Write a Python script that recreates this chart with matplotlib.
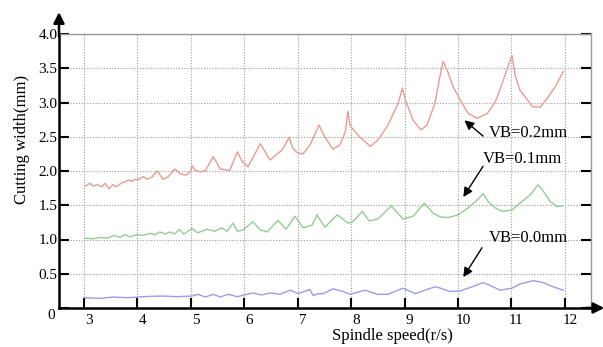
import matplotlib
matplotlib.use("Agg")
import matplotlib.pyplot as plt
import matplotlib.transforms as mtransforms

plt.rcParams['font.family'] = ['Liberation Serif', 'DejaVu Serif']

# ---- data ----
x_red = [3.02, 3.11, 3.17, 3.24, 3.34, 3.39, 3.47, 3.54, 3.61, 3.71, 3.77, 3.83, 3.90, 3.96,
         4.01, 4.11, 4.18, 4.27, 4.37, 4.48, 4.57, 4.70, 4.80, 4.91, 4.99, 5.02, 5.08, 5.17,
         5.27, 5.42, 5.55, 5.73, 5.87, 5.96, 6.07, 6.30, 6.48, 6.71, 6.84, 6.91, 7.01, 7.10,
         7.23, 7.40, 7.51, 7.66, 7.79, 7.89, 7.94, 7.98, 8.17, 8.36, 8.51, 8.69, 8.88, 8.96,
         9.01, 9.16, 9.31, 9.42, 9.57, 9.65, 9.72, 9.80, 9.91, 10.04, 10.19, 10.36, 10.55,
         10.70, 10.85, 10.98, 11.01, 11.07, 11.16, 11.30, 11.39, 11.54, 11.67, 11.82, 11.97]
y_red = [1.78, 1.82, 1.78, 1.80, 1.77, 1.82, 1.74, 1.80, 1.77, 1.83, 1.84, 1.87, 1.85, 1.88,
         1.87, 1.92, 1.88, 1.91, 2.00, 1.88, 1.91, 2.03, 1.96, 1.94, 1.99, 2.08, 2.01, 1.99,
         2.00, 2.21, 2.03, 2.01, 2.28, 2.14, 2.06, 2.40, 2.16, 2.31, 2.49, 2.33, 2.26, 2.25,
         2.38, 2.67, 2.49, 2.32, 2.38, 2.57, 2.87, 2.66, 2.49, 2.36, 2.46, 2.67, 2.99, 3.21,
         3.05, 2.74, 2.60, 2.67, 2.99, 3.33, 3.60, 3.47, 3.23, 3.04, 2.84, 2.77, 2.84,
         3.01, 3.33, 3.62, 3.69, 3.40, 3.18, 3.04, 2.94, 2.93, 3.06, 3.23, 3.45]

x_green = [3.02, 3.17, 3.30, 3.43, 3.58, 3.67, 3.77, 3.86, 3.99, 4.11, 4.24, 4.33, 4.42, 4.52,
           4.61, 4.70, 4.78, 4.87, 5.02, 5.12, 5.17, 5.30, 5.45, 5.58, 5.68, 5.79, 5.87, 5.98,
           6.16, 6.30, 6.43, 6.63, 6.78, 6.95, 7.10, 7.27, 7.36, 7.51, 7.74, 7.94, 8.02, 8.21,
           8.34, 8.50, 8.75, 8.97, 9.16, 9.37, 9.54, 9.67, 9.82, 10.00, 10.19, 10.38, 10.47,
           10.57, 10.70, 10.83, 11.01, 11.16, 11.35, 11.50, 11.60, 11.73, 11.86, 11.97]
y_green = [1.02, 1.01, 1.03, 1.02, 1.06, 1.03, 1.07, 1.04, 1.07, 1.06, 1.09, 1.07, 1.11, 1.08,
           1.11, 1.08, 1.15, 1.08, 1.16, 1.10, 1.11, 1.15, 1.12, 1.17, 1.12, 1.24, 1.12, 1.14,
           1.26, 1.14, 1.11, 1.28, 1.15, 1.34, 1.17, 1.21, 1.36, 1.18, 1.36, 1.24, 1.25, 1.41,
           1.27, 1.30, 1.49, 1.30, 1.34, 1.53, 1.38, 1.33, 1.32, 1.36, 1.46, 1.59, 1.67,
           1.55, 1.46, 1.41, 1.43, 1.53, 1.65, 1.80, 1.70, 1.55, 1.48, 1.49]

x_blue = [3.02, 3.30, 3.54, 3.81, 4.01, 4.24, 4.48, 4.74, 5.02, 5.13, 5.27, 5.42, 5.55, 5.70,
          5.87, 6.05, 6.16, 6.33, 6.48, 6.67, 6.86, 7.01, 7.23, 7.29, 7.38, 7.48, 7.66, 7.85,
          7.98, 8.26, 8.49, 8.69, 8.97, 9.20, 9.57, 9.67, 9.85, 10.04, 10.23, 10.47, 10.57,
          10.79, 11.01, 11.16, 11.41, 11.60, 11.78, 11.97]
y_blue = [0.15, 0.14, 0.16, 0.15, 0.16, 0.17, 0.175, 0.165, 0.175, 0.20, 0.16, 0.20, 0.16, 0.20,
          0.165, 0.20, 0.22, 0.19, 0.22, 0.20, 0.26, 0.21, 0.27, 0.18, 0.21, 0.21, 0.28, 0.24,
          0.20, 0.26, 0.20, 0.20, 0.29, 0.21, 0.31, 0.29, 0.24, 0.25, 0.30, 0.37, 0.34,
          0.26, 0.29, 0.35, 0.40, 0.37, 0.31, 0.26]

x_ticks = [3, 4, 5, 6, 7, 8, 9, 10, 11, 12]
x_ticklabels = ['3', '4', '5', '6', '7', '8', '9', '10', '11', '12']
y_ticks = [0, 0.5, 1.0, 1.5, 2.0, 2.5, 3.0, 3.5, 4.0]
y_ticklabels = ['0', '0.5', '1.0', '1.5', '2.0', '2.5', '3.0', '3.5', '4.0']

labels = ['VB=0.2mm', 'VB=0.1mm', 'VB=0.0mm']
label_xy = [(10.57, 2.55), (10.47, 2.18), (10.57, 1.02)]
arrow_tail = [(10.47, 2.51), (10.47, 2.07), (10.45, 0.88)]
arrow_tip = [(10.12, 2.74), (10.10, 1.62), (10.10, 0.45)]

# ---- figure ----
fig = plt.figure(figsize=(6.03, 3.47), dpi=100)
ax = fig.add_axes([59/603, 1-308/347, (591-59)/603, (308-34)/347])

ax.plot(x_red, y_red, color='#ec9a92', lw=1.0)
ax.plot(x_green, y_green, color='#94cc94', lw=1.0)
ax.plot(x_blue, y_blue, color='#9c9ce8', lw=1.0)

ax.set_xlim(2.532, 12.49)
ax.set_ylim(0, 4.0)
ax.set_xticks(x_ticks)
ax.set_xticklabels(x_ticklabels, fontsize=11)
ax.set_yticks(y_ticks)
ax.set_yticklabels(y_ticklabels, fontsize=11)

ax.grid(True, color='#9a9a9a', lw=0.8, linestyle=(0, (1, 1.5)))
ax.tick_params(axis='y', direction='in', length=7, width=1.5, color='black', pad=1,
               right=True, labelright=False)
ax.tick_params(axis='x', direction='in', length=7, width=1.5, color='black', pad=4)

for s in ['left', 'bottom']:
    ax.spines[s].set_linewidth(1.8)
    ax.spines[s].set_color('black')
for s in ['top', 'right']:
    ax.spines[s].set_linewidth(1.0)
    ax.spines[s].set_color('#999999')

# shift x tick labels slightly right, and the "0" label down
dx = mtransforms.ScaledTranslation(5/100, 0, fig.dpi_scale_trans)
for lab in ax.get_xticklabels():
    lab.set_transform(lab.get_transform() + dx)
ylabs = ax.get_yticklabels()
ylabs[0].set_transform(ylabs[0].get_transform() +
                       mtransforms.ScaledTranslation(-3/100, -6/100, fig.dpi_scale_trans))

# axis arrows
ax.annotate('', xy=(0, 1.08), xytext=(0, 0.99), xycoords='axes fraction',
            arrowprops=dict(arrowstyle='-|>', color='black', lw=1.8, mutation_scale=16,
                            shrinkA=0, shrinkB=0),
            annotation_clip=False)
ax.annotate('', xy=(1.025, 0), xytext=(0.99, 0), xycoords='axes fraction',
            arrowprops=dict(arrowstyle='-|>', color='black', lw=1.8, mutation_scale=16,
                            shrinkA=0, shrinkB=0),
            annotation_clip=False)

# annotations
for lab, pos, tail, tip in zip(labels, label_xy, arrow_tail, arrow_tip):
    ax.text(pos[0], pos[1], lab, fontsize=12, ha='left', va='center')
    ax.annotate('', xy=tip, xytext=tail,
                arrowprops=dict(arrowstyle='-|>', color='black', lw=1.0, mutation_scale=14,
                                shrinkA=0, shrinkB=0))

fig.text(22/603, 1-139/347, 'Cutting width(mm)', rotation=90, fontsize=12,
         ha='center', va='center')
fig.text(392/603, 1-336/347, 'Spindle speed(r/s)', fontsize=12, ha='center', va='center')

fig.savefig('out.png', dpi=100)
